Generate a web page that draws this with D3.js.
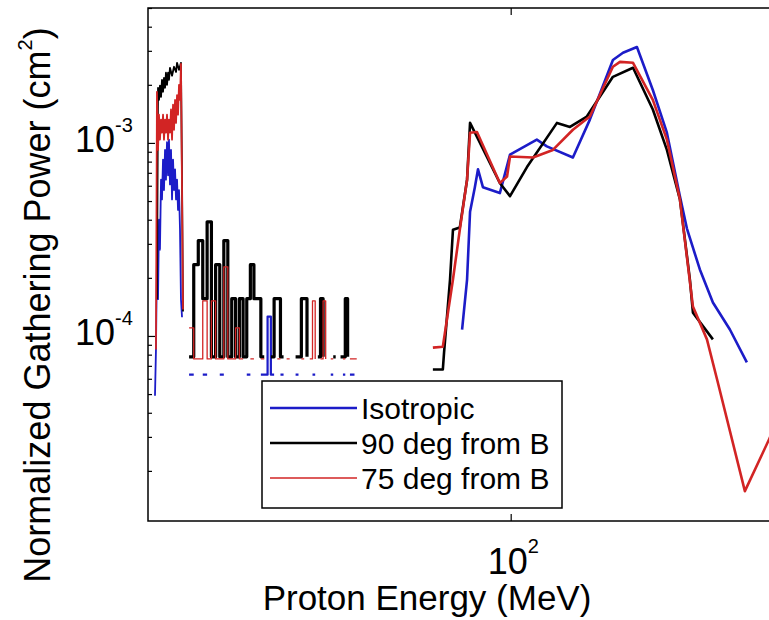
<!DOCTYPE html>
<html><head><meta charset="utf-8">
<script src="https://cdn.jsdelivr.net/npm/d3@7"></script>
<style>body{margin:0;background:#fff}svg{display:block}</style>
</head><body><svg id="c" width="769" height="620"></svg>
<script>
// ---------- DATA ----------
const seriesNames = ["Isotropic", "90 deg from B", "75 deg from B"];
// Low-energy spike (MeV, cm^2)
const isoLowE = [20.63,20.72,20.81,20.91,21.00,21.09,21.19,21.28,21.38,21.47,21.57,21.66,21.76,21.86,21.95,22.05,22.15,22.25,22.35,22.45,22.55,22.65,22.75,22.85,22.95,23.05,23.15,23.26];
const isoLowV = [4.9e-5,8.5e-5,2.5e-4,1.55e-4,4.0e-4,2.8e-4,6.45e-4,5.1e-4,8.2e-4,5.7e-4,9.2e-4,6.45e-4,1.01e-3,6.8e-4,1.04e-3,6.1e-4,9.2e-4,5.1e-4,8.2e-4,5.7e-4,7.3e-4,5.1e-4,6.45e-4,4.5e-4,5.7e-4,3.6e-4,1.55e-4,1.25e-4];
const b90LowE = [20.81,20.91,21.00,21.09,21.19,21.28,21.38,21.47,21.57,21.66,21.76,21.86,21.95,22.05,22.25,22.45,22.65,22.75,22.95,23.15,23.26,23.36];
const b90LowV = [1.55e-4,1.93e-3,1.67e-3,1.98e-3,1.73e-3,2.12e-3,1.84e-3,2.17e-3,1.93e-3,2.31e-3,2.0e-3,2.31e-3,2.12e-3,2.45e-3,2.23e-3,2.48e-3,2.33e-3,2.60e-3,2.39e-3,2.60e-3,6.45e-4,1.34e-4];
const b75LowE = [20.72,20.81,20.91,21.00,21.09,21.19,21.28,21.38,21.47,21.57,21.66,21.76,21.86,21.95,22.05,22.15,22.25,22.35,22.45,22.55,22.65,22.75,22.85,22.95,23.05,23.15,23.26,23.36];
const b75LowV = [8.5e-5,1.84e-3,9.2e-4,1.40e-3,1.04e-3,1.32e-3,1.13e-3,1.40e-3,1.04e-3,1.32e-3,1.13e-3,1.40e-3,1.04e-3,1.32e-3,1.13e-3,1.49e-3,1.04e-3,1.58e-3,1.17e-3,1.67e-3,1.27e-3,1.77e-3,1.40e-3,2.0e-3,1.67e-3,2.57e-3,5.7e-4,1.37e-4];
// Noisy mid-energy bins (0 = no counts, not drawn on log axis)
const midE = [24.0,24.5,25.0,25.5,26.0,26.5,27.0,27.5,28.0,28.5,29.0,29.5,30.0,30.5,31.0,31.5,32.0,32.5,33.0,33.5,34.0,34.5,35.0,35.5,36.0,36.5,37.0,37.5,38.0,38.5,39.0,39.5,40.0,40.5,41.0,41.5,42.0,42.5,43.0,43.5,44.0,44.5,45.0,45.5,46.0,46.5,47.0,47.5,48.0,48.5,49.0,49.5,50.0,50.5,51.0,51.5];
const isoMidV = [6.3e-5,6.3e-5,0,6.3e-5,6.3e-5,0,0,6.3e-5,6.3e-5,0,0,0,0,0,6.3e-5,6.3e-5,0,0,6.3e-5,6.3e-5,1.26e-4,6.3e-5,6.3e-5,0,6.3e-5,6.3e-5,0,0,0,6.3e-5,6.3e-5,0,0,0,0,6.3e-5,6.3e-5,0,0,0,0,0,6.3e-5,6.3e-5,0,0,0,6.3e-5,6.3e-5,0,6.3e-5,6.3e-5,6.3e-5,0,0,0];
const b90MidV = [7.8e-5,2.34e-4,3.12e-4,1.56e-4,3.9e-4,7.8e-5,2.34e-4,7.8e-5,3.12e-4,7.8e-5,1.56e-4,7.8e-5,1.56e-4,7.8e-5,1.56e-4,2.34e-4,1.56e-4,1.56e-4,7.8e-5,7.8e-5,0,7.8e-5,1.56e-4,1.56e-4,7.8e-5,7.8e-5,0,7.8e-5,0,7.8e-5,7.8e-5,1.56e-4,1.56e-4,7.8e-5,0,7.8e-5,0,7.8e-5,1.56e-4,7.8e-5,0,7.8e-5,0,7.8e-5,7.8e-5,0,7.8e-5,7.8e-5,1.56e-4,7.8e-5,0,7.8e-5,0,0,0,0];
const b75MidV = [1.1e-4,7.6e-5,7.6e-5,1.52e-4,7.6e-5,1.52e-4,7.6e-5,7.6e-5,2.28e-4,7.6e-5,7.6e-5,1.1e-4,7.6e-5,7.6e-5,0,7.6e-5,7.6e-5,0,7.6e-5,7.6e-5,0,7.6e-5,0,7.6e-5,7.6e-5,0,7.6e-5,7.6e-5,0,7.6e-5,0,7.6e-5,7.6e-5,0,7.6e-5,1.52e-4,7.6e-5,0,7.6e-5,1.52e-4,7.6e-5,0,7.6e-5,7.6e-5,0,7.6e-5,0,7.6e-5,7.6e-5,0,7.6e-5,7.6e-5,7.6e-5,7.6e-5,0,0];
// High-energy curves
const isoHighE = [80.6,82.4,83.5,85.3,86.5,88.4,95.3,99.7,112.3,117.4,131.8,142.1,157.4,164.6,175.1,187.9,200,211.9,218.6,231.5,245.3,264.5,285.2];
const isoHighV = [1.08e-4,1.96e-4,4.4e-4,5.9e-4,7.3e-4,5.9e-4,5.5e-4,8.7e-4,1.04e-3,9.6e-4,8.4e-4,1.32e-3,2.69e-3,2.93e-3,3.14e-3,1.88e-3,1.13e-3,5.3e-4,3.6e-4,2.21e-4,1.49e-4,1.08e-4,7.3e-5];
const b90HighE = [70.8,74.0,74.4,76.4,77.4,79.8,82.4,83.5,95.3,99.7,107.5,122.8,130.1,140.2,157.4,172.1,187.9,200,211.9,221.5,224.5,245.3];
const b90HighV = [6.7e-5,6.7e-5,8.2e-5,1.96e-4,3.55e-4,3.65e-4,6.45e-4,1.27e-3,6.2e-4,5.3e-4,7.5e-4,1.27e-3,1.21e-3,1.37e-3,2.20e-3,2.45e-3,1.49e-3,9.2e-4,5.1e-4,1.96e-4,1.32e-4,9.6e-5];
const b75HighE = [70.8,74.0,77.4,79.8,82.4,83.5,86.1,95.3,98.4,99.7,110.4,120.6,131.8,142.1,157.4,162.4,172.1,187.9,200,211.9,224.5,238.9,249.7,282.7,314.5,323.0];
const b75HighV = [8.7e-5,8.8e-5,1.96e-4,3.56e-4,6.45e-4,1.13e-3,1.14e-3,6.2e-4,6.7e-4,8.5e-4,8.4e-4,9.2e-4,1.17e-3,1.37e-3,2.48e-3,2.63e-3,2.60e-3,1.67e-3,1.04e-3,5.1e-4,1.42e-4,9.6e-5,6.0e-5,1.57e-5,2.9e-5,3.4e-5];
// Axis ticks / labels
const xMajorTicks = [100];
const xTickExps = ["2"];
const yMajorTicks = [1e-4, 1e-3];
const yTickExps = ["-4", "-3"];
const xTitle = "Proton Energy (MeV)";
const yTitle = "Normalized Gathering Power (cm";

// ---------- STYLE ----------
const colors = ["#1c1cc8", "#000000", "#d22424"];
const font = "'Liberation Sans', Arial, Helvetica, sans-serif";

const svg = d3.select("#c");
const L = 148, T = 8, R = 793, B = 521;
const x = d3.scaleLog().domain([20, 350]).range([L, R]);
const y = d3.scaleLog().domain([1.1e-5, 5e-3]).range([B, T]);

svg.append("rect").attr("width", 769).attr("height", 620).attr("fill", "#fff");
svg.append("defs").append("clipPath").attr("id", "clip")
  .append("rect").attr("x", L).attr("y", T).attr("width", R - L).attr("height", B - T);

const zip = (E, V) => E.map((e, i) => ({e, v: V[i]}));
const lin = d3.line().x(d => x(d.e)).y(d => y(d.v));
const step = d3.line().defined(d => d.v > 0).x(d => x(d.e)).y(d => y(d.v)).curve(d3.curveStepAfter);

const g = svg.append("g").attr("clip-path", "url(#clip)")
  .attr("fill", "none").attr("stroke-linejoin", "round");

const low = [[isoLowE, isoLowV], [b90LowE, b90LowV], [b75LowE, b75LowV]];
const mid = [isoMidV, b90MidV, b75MidV];
const high = [[isoHighE, isoHighV], [b90HighE, b90HighV], [b75HighE, b75HighV]];
const midW = [2.2, 3.2, 1.3];
for (let s = 0; s < 3; s++) {
  g.append("path").attr("d", lin(zip(low[s][0], low[s][1])))
    .attr("stroke", colors[s]).attr("stroke-width", 1.8);
  g.append("path").attr("d", step(zip(midE, mid[s])))
    .attr("stroke", colors[s]).attr("stroke-width", midW[s]);
  g.append("path").attr("d", lin(zip(high[s][0], high[s][1])))
    .attr("stroke", colors[s]).attr("stroke-width", 2.6);
}

// ---------- AXES ----------
const yMinor = y.ticks().filter(v => !yMajorTicks.some(m => Math.abs(m - v) / m < 1e-6));
const axStyle = sel => { sel.select(".domain").remove(); sel.selectAll("line").attr("stroke", "#000").attr("stroke-width", 1.2); sel.selectAll("text").remove(); };
svg.append("g").attr("transform", `translate(${L},0)`)
  .call(d3.axisLeft(y).tickValues(yMinor).tickSize(-4).tickFormat("")).call(axStyle);
svg.append("g").attr("transform", `translate(${L},0)`)
  .call(d3.axisLeft(y).tickValues(yMajorTicks).tickSize(-7).tickFormat("")).call(axStyle);
svg.append("g").attr("transform", `translate(0,${B})`)
  .call(d3.axisBottom(x).tickValues(xMajorTicks).tickSize(-7).tickFormat("")).call(axStyle);
svg.append("g").attr("transform", `translate(0,${T})`)
  .call(d3.axisTop(x).tickValues(xMajorTicks).tickSize(-7).tickFormat("")).call(axStyle);

svg.append("rect").attr("x", L).attr("y", T).attr("width", R - L).attr("height", B - T)
  .attr("fill", "none").attr("stroke", "#000").attr("stroke-width", 1.5);

// tick labels
yMajorTicks.forEach((v, i) => {
  const t = svg.append("text").attr("font-family", font).attr("fill", "#000");
  t.append("tspan").attr("x", 75).attr("y", y(v) + 9).attr("font-size", 36).text("10");
  t.append("tspan").attr("dy", -20).attr("font-size", 20).text(yTickExps[i]);
});
xMajorTicks.forEach((v, i) => {
  const t = svg.append("text").attr("font-family", font).attr("fill", "#000");
  t.append("tspan").attr("x", x(v) - 23).attr("y", 574).attr("font-size", 36).text("10");
  t.append("tspan").attr("dy", -21).attr("font-size", 20).text(xTickExps[i]);
});

// axis titles
svg.append("text").attr("x", 427).attr("y", 610).attr("text-anchor", "middle")
  .attr("font-family", font).attr("font-size", 35).text(xTitle);
const yt = svg.append("text").attr("transform", "translate(50,305) rotate(-90)")
  .attr("text-anchor", "middle").attr("font-family", font).attr("font-size", 36);
yt.append("tspan").text(yTitle);
yt.append("tspan").attr("dy", -18).attr("font-size", 20).text("2");
yt.append("tspan").attr("dy", 18).text(")");

// ---------- LEGEND ----------
const lg = svg.append("g");
lg.append("rect").attr("x", 262).attr("y", 381).attr("width", 300).attr("height", 127)
  .attr("fill", "#fff").attr("stroke", "#000").attr("stroke-width", 1.5);
const rowY = [408, 443, 478];
const legW = [2.4, 2.4, 1.3];
seriesNames.forEach((n, i) => {
  lg.append("line").attr("x1", 270).attr("x2", 357).attr("y1", rowY[i]).attr("y2", rowY[i])
    .attr("stroke", colors[i]).attr("stroke-width", legW[i]);
  lg.append("text").attr("x", 361).attr("y", rowY[i] + 11).attr("font-family", font)
    .attr("font-size", 30).text(n);
});
</script></body></html>
